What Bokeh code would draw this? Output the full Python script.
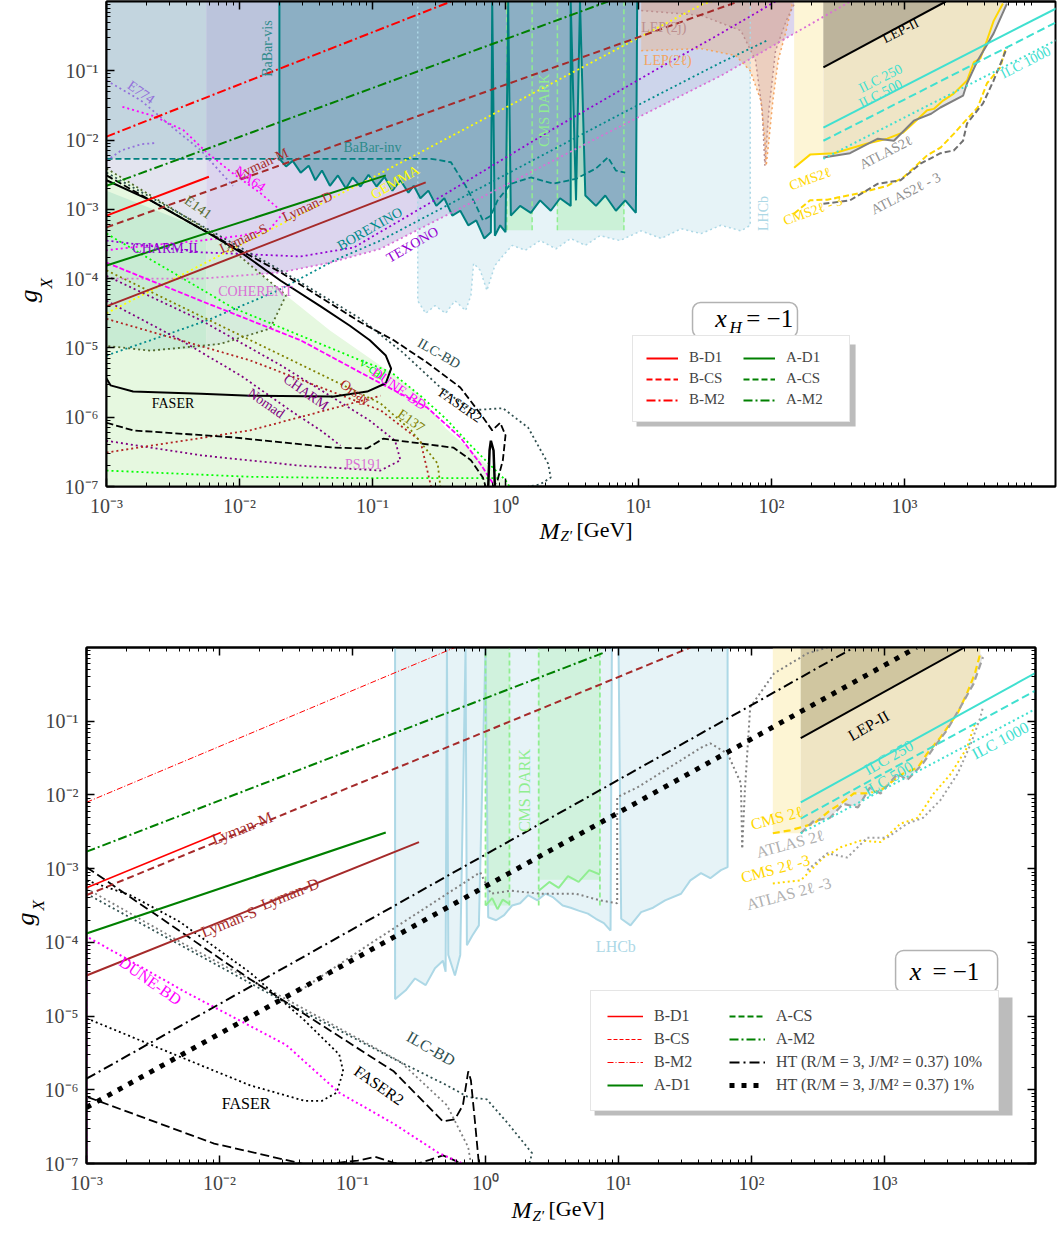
from bokeh.plotting import figure
from bokeh.models import (FixedTicker, LogAxis, CustomJSTickFormatter, Label, Title,
                          Legend, LegendItem, BoxAnnotation, Range1d)
from bokeh.layouts import column
from bokeh.embed import file_html
from bokeh.resources import INLINE

FONT = "Liberation Serif"

# ---------------- axis ticks ----------------
x_major = [1e-3, 1e-2, 1e-1, 1e0, 1e1, 1e2, 1e3]
y_major = [1e-7, 1e-6, 1e-5, 1e-4, 1e-3, 1e-2, 1e-1]
x_minor = [k * d for d in x_major for k in range(2, 10)]
y_minor = [k * d for d in y_major for k in range(2, 10)]

# ======== TOP PANEL (x_H = -1): points as (log10 M_Z'[GeV], log10 g_X) ========
t_bm2 = [(-3.0, -1.95), (-0.41, 0.0)]
t_am2 = [(-3.0, -2.66), (0.77, 0.0)]
t_lymM = [(-3.0, -3.26), (1.75, 0.0)]
t_bd1 = [(-3.0, -3.09), (-2.23, -2.53)]
t_ad1 = [(-3.0, -3.81), (-0.90, -2.51)]
t_lymD = [(-3.0, -4.40), (-0.60, -2.61)]
t_gemma = [(-3.0, -4.50), (-1.02, -2.56), (1.49, -0.03), (1.55, 0.0)]
t_texono = [(-3.0, -3.45), (-2.29, -3.62), (-1.54, -3.68), (-1.14, -3.55), (-0.41, -2.73),
            (0.34, -1.86), (1.09, -1.03), (1.62, -0.46), (2.03, 0.0)]
t_orchid = [(-3.0, -4.0), (-2.29, -4.0), (-1.69, -3.91), (-1.32, -3.77), (-0.94, -3.57),
            (-0.04, -2.69), (0.71, -1.95), (1.62, -1.07), (2.59, 0.0)]
t_borex = [(-3.0, -5.11), (-2.67, -4.89), (-2.24, -4.60), (-1.71, -4.17), (-1.29, -3.74),
           (-0.94, -3.45), (-0.04, -2.54), (0.86, -1.63), (1.62, -0.88), (1.97, -0.56)]
t_binv = [(-3.0, -2.27), (-0.56, -2.27), (-0.41, -2.32), (-0.30, -2.66), (-0.22, -2.95),
          (-0.17, -3.16), (-0.11, -3.09), (-0.06, -2.87), (0.04, -2.63), (0.19, -2.54),
          (0.36, -2.63), (0.53, -2.56), (0.68, -2.41), (0.77, -2.25), (0.83, -2.44), (0.90, -2.47)]
t_bvis = [(-1.70, 0.0), (-1.70, -2.27), (-1.65, -2.38), (-1.60, -2.30), (-1.54, -2.47),
          (-1.48, -2.37), (-1.43, -2.58), (-1.38, -2.44), (-1.32, -2.66), (-1.26, -2.51),
          (-1.20, -2.70), (-1.15, -2.54), (-1.09, -2.67), (-1.03, -2.50), (-0.97, -2.67),
          (-0.91, -2.53), (-0.85, -2.73), (-0.79, -2.58), (-0.73, -2.76), (-0.69, -2.66),
          (-0.64, -2.84), (-0.58, -2.73), (-0.52, -2.95), (-0.46, -2.84), (-0.40, -3.09),
          (-0.34, -3.02), (-0.28, -3.23), (-0.22, -3.16), (-0.16, -3.42), (-0.11, -3.33),
          (-0.10, 0.0), (-0.08, -3.38), (-0.04, -3.23), (0.0, -3.33), (0.02, 0.0),
          (0.04, -3.09), (0.11, -2.95), (0.19, -3.05), (0.26, -2.87), (0.34, -3.02),
          (0.41, -2.84), (0.49, -2.95), (0.49, 0.0), (0.53, -2.87), (0.56, 0.0),
          (0.60, -2.80), (0.68, -2.95), (0.75, -2.80), (0.83, -3.02), (0.90, -2.87),
          (0.98, -3.05), (0.99, 0.0)]
t_lhcb = [(-0.66, 0.0), (-0.66, -4.32), (-0.60, -4.50), (-0.53, -4.39), (-0.45, -4.50),
          (-0.38, -4.32), (-0.30, -4.46), (-0.26, -4.24), (-0.24, -3.78), (-0.19, -3.88),
          (-0.14, -4.17), (-0.08, -3.81), (-0.02, -3.67), (0.05, -3.52), (0.15, -3.59),
          (0.26, -3.45), (0.38, -3.57), (0.49, -3.42), (0.60, -3.52), (0.71, -3.38),
          (0.86, -3.45), (1.02, -3.31), (1.17, -3.42), (1.32, -3.28), (1.47, -3.35),
          (1.62, -3.23), (1.77, -3.31), (1.84, -3.23), (1.84, 0.0)]
t_cmsdark_lo = [0.01, 0.39]
t_cmsdark_hi = [0.20, 0.89]
t_cmsdark_floor = -3.30
t_lep2l = [(1.02, -0.71), (1.47, -0.68), (1.73, -0.78), (1.84, -1.0), (1.92, -1.43), (1.95, -2.01),
           (1.96, -2.37), (1.98, -2.01), (2.01, -1.43), (2.05, -0.85), (2.11, -0.42), (2.16, 0.0)]
t_lep2j = [(1.02, -0.13), (1.47, -0.20), (1.77, -0.42), (1.88, -0.85), (1.93, -1.57), (1.95, -2.37),
           (1.98, -1.57), (2.03, -0.71), (2.11, -0.28), (2.18, 0.0)]
t_cms = [(2.17, -2.40), (2.29, -2.21), (2.47, -2.19), (2.72, -2.05), (2.87, -1.98), (2.99, -1.89),
         (3.07, -1.75), (3.17, -1.57), (3.22, -1.55), (3.29, -1.43), (3.37, -1.33), (3.47, -1.14),
         (3.52, -0.88), (3.57, -0.82), (3.62, -0.56), (3.67, -0.28), (3.74, -0.03)]
t_atlas = [(2.39, -2.25), (2.59, -2.19), (2.80, -1.98), (2.92, -2.01), (3.07, -1.72), (3.20, -1.62),
           (3.27, -1.53), (3.44, -1.36), (3.47, -1.18), (3.55, -0.85), (3.67, -0.46), (3.77, -0.03)]
t_cms3 = [(2.17, -3.06), (2.29, -2.87), (2.42, -2.86), (2.65, -2.77), (2.87, -2.66), (2.99, -2.54),
          (3.07, -2.40), (3.17, -2.22), (3.27, -2.11), (3.37, -1.91), (3.44, -1.76), (3.55, -1.53),
          (3.62, -1.18), (3.72, -0.95), (3.76, -0.67)]
t_atlas3 = [(2.39, -2.92), (2.59, -2.87), (2.80, -2.63), (2.97, -2.58), (3.12, -2.34), (3.27, -2.19),
            (3.37, -2.15), (3.44, -2.01), (3.47, -1.76), (3.59, -1.47), (3.67, -1.14), (3.77, -0.67)]
t_lep = [(2.39, -0.95), (3.31, 0.0)]
t_ilc250 = [(2.39, -1.82), (4.14, -0.10)]
t_ilc500 = [(2.39, -2.01), (4.14, -0.30)]
t_ilc1000 = [(2.39, -2.27), (4.14, -0.56)]
t_faser = [(-3.0, -2.58), (-2.67, -2.87), (-2.29, -3.28), (-1.99, -3.62), (-1.69, -4.03), (-1.39, -4.40),
           (-1.17, -4.68), (-1.02, -4.89), (-0.90, -5.11), (-0.86, -5.30), (-0.90, -5.51), (-1.04, -5.63),
           (-1.29, -5.70), (-1.92, -5.69), (-2.29, -5.66), (-2.80, -5.63), (-2.97, -5.54), (-3.0, -5.44)]
t_faser_loop = [(-0.13, -7.0), (-0.12, -6.48), (-0.11, -6.34), (-0.09, -6.48), (-0.08, -7.0)]
t_faser2a = [(-3.0, -2.51), (-2.29, -3.28), (-1.69, -3.91), (-1.09, -4.63), (-0.84, -4.89), (-0.59, -5.21),
             (-0.34, -5.57), (-0.17, -6.0), (-0.10, -6.19), (-0.04, -6.08), (0.0, -6.26), (-0.02, -6.62),
             (-0.06, -6.91), (-0.09, -7.0)]
t_faser2b = [(-3.0, -6.08), (-2.80, -6.19), (-2.05, -6.29), (-1.29, -6.44), (-1.04, -6.45), (-0.92, -6.31),
             (-0.39, -6.44), (-0.26, -6.62), (-0.17, -6.87), (-0.15, -7.0)]
t_ilcbd = [(-3.0, -2.47), (-2.29, -3.23), (-1.69, -3.88), (-1.09, -4.58), (-0.77, -5.07), (-0.49, -5.57),
           (-0.26, -5.90), (-0.02, -5.87), (0.17, -6.15), (0.32, -6.67), (0.34, -6.87), (0.26, -6.97), (0.17, -7.0)]
t_dune = [(-3.0, -3.77), (-2.29, -4.32), (-1.54, -4.89), (-0.94, -5.51), (-0.59, -5.86), (-0.34, -6.29),
          (-0.19, -6.67), (-0.11, -6.91), (-0.08, -7.0)]
t_e137 = [(-3.0, -3.88), (-0.94, -5.80), (-0.71, -6.19), (-0.51, -6.67), (-0.49, -7.0)]
t_nucal = [(-3.0, -3.35), (-2.05, -4.42), (-1.09, -5.18), (-0.86, -5.35), (-0.64, -5.69), (-0.45, -6.02),
           (-0.26, -6.41), (-0.11, -6.70), (0.0, -6.91), (0.03, -7.0)]
t_nucal_low = [(-3.0, -6.77), (-1.92, -6.86), (-1.09, -6.88), (-0.49, -6.88), (-0.04, -6.88)]
t_e141 = [(-3.0, -2.41), (-2.20, -3.35), (-1.65, -4.24), (-1.77, -4.72), (-2.14, -4.94), (-2.67, -5.04), (-3.0, -4.97)]
t_na64 = [(-2.88, -1.52), (-2.65, -1.65), (-2.42, -1.86), (-2.24, -2.19), (-2.05, -2.48), (-1.84, -2.77),
          (-1.67, -3.05), (-1.77, -3.28), (-1.99, -3.38), (-2.29, -3.45), (-2.67, -3.52), (-3.0, -3.59)]
t_e774a = [(-3.0, -1.14), (-2.74, -1.43), (-2.52, -1.79), (-2.29, -2.15), (-2.05, -2.66)]
t_e774b = [(-3.0, -2.30), (-2.89, -2.15), (-2.74, -2.06), (-2.62, -2.04)]
t_charm = [(-3.0, -3.96), (-2.29, -4.60), (-1.69, -5.25), (-1.32, -5.69), (-1.02, -6.05), (-0.83, -6.34),
           (-0.79, -6.62), (-0.94, -6.77), (-1.54, -6.70), (-2.29, -6.55), (-3.0, -6.34)]
t_nomad = [(-3.0, -4.32), (-2.44, -4.89), (-1.99, -5.40), (-1.62, -5.90), (-1.39, -6.19), (-1.24, -6.41)]
t_orsay_a = [(-3.0, -6.51), (-1.92, -6.19), (-0.94, -5.69)]
t_orsay_b = [(-3.0, -4.58), (-1.92, -5.18), (-0.94, -5.90), (-0.64, -6.34), (-0.56, -7.0)]
t_green_light = [(-3.0, -7.0), (-3.0, -2.41), (-2.20, -3.35), (-1.65, -4.24), (-1.32, -4.75), (-1.02, -5.15),
                 (-0.83, -5.40), (-0.64, -5.69), (-0.45, -6.16), (-0.26, -6.48), (-0.11, -6.74), (0.0, -6.94), (0.04, -7.0)]
t_green_dark = [(-3.0, -2.73), (-2.25, -3.30), (-2.25, -5.0), (-2.67, -5.04), (-3.0, -4.97)]
t_green_mid = [(-2.25, -3.30), (-1.65, -4.24), (-1.77, -4.72), (-2.14, -4.94), (-2.25, -5.0)]

# ======== BOTTOM PANEL (x = -1) ========
b_bm2 = [(-3.0, -2.10), (-0.23, 0.0)]
b_am2 = [(-3.0, -2.77), (0.89, -0.07)]
b_lymM = [(-3.0, -3.36), (1.54, 0.0)]
b_bd1 = [(-3.0, -3.26), (-1.99, -2.51)]
b_ad1 = [(-3.0, -3.88), (-0.75, -2.51)]
b_lymD = [(-3.0, -4.45), (-0.50, -2.64)]
b_ht10 = [(-3.0, -5.85), (2.77, 0.0)]
b_ht1 = [(-3.0, -6.24), (3.24, 0.0)]
b_lep = [(2.37, -1.23), (3.60, 0.0)]
b_ilc250 = [(2.37, -2.10), (4.14, -0.34)]
b_ilc500 = [(2.37, -2.32), (4.14, -0.58)]
b_ilc1000 = [(2.37, -2.52), (4.14, -0.83)]
b_cms = [(2.16, -2.52), (2.29, -2.48), (2.47, -2.39), (2.59, -2.21), (2.67, -2.12), (2.77, -1.98),
         (2.87, -1.98), (2.97, -1.94), (3.07, -1.80), (3.14, -1.71), (3.25, -1.63), (3.32, -1.44),
         (3.42, -1.22), (3.55, -0.89), (3.62, -0.62), (3.68, -0.35), (3.72, -0.08)]
b_atlas = [(2.37, -2.52), (2.47, -2.35), (2.59, -2.31), (2.69, -2.12), (2.80, -2.17), (2.89, -1.90),
           (2.97, -1.98), (3.10, -1.71), (3.17, -1.80), (3.29, -1.57), (3.37, -1.36), (3.47, -1.12),
           (3.57, -0.81), (3.67, -0.49), (3.74, -0.13)]
b_cms3 = [(2.16, -3.20), (2.37, -3.16), (2.54, -2.85), (2.67, -2.71), (2.82, -2.62), (2.97, -2.64),
          (3.12, -2.39), (3.25, -2.31), (3.37, -1.98), (3.50, -1.71), (3.62, -1.36), (3.68, -1.03)]
b_atlas3 = [(2.42, -3.02), (2.57, -2.79), (2.72, -2.85), (2.87, -2.58), (3.02, -2.58), (3.17, -2.39),
            (3.29, -2.31), (3.42, -2.07), (3.55, -1.71), (3.65, -1.30), (3.72, -0.95), (3.74, -0.81)]
b_lhcb = [(-0.68, 0.0), (-0.68, -4.77), (-0.60, -4.65), (-0.53, -4.49), (-0.45, -4.58), (-0.38, -4.35),
          (-0.32, -4.25), (-0.30, -4.40), (-0.29, 0.0), (-0.28, -4.17), (-0.23, -4.45), (-0.19, -4.17),
          (-0.15, 0.0), (-0.14, -4.04), (-0.10, -3.91), (-0.05, -3.77), (0.0, 0.0), (0.02, -3.66),
          (0.08, -3.70), (0.14, -3.63), (0.20, -3.50), (0.26, -3.47), (0.32, -3.36), (0.39, -3.43),
          (0.45, -3.34), (0.51, -3.39), (0.58, -3.50), (0.64, -3.53), (0.70, -3.57), (0.77, -3.61),
          (0.83, -3.68), (0.89, -3.74), (0.94, -3.84), (0.95, 0.0), (1.0, 0.0), (1.02, -3.68),
          (1.09, -3.77), (1.17, -3.59), (1.26, -3.53), (1.35, -3.43), (1.47, -3.34), (1.54, -3.16),
          (1.62, -3.06), (1.69, -3.13), (1.77, -3.02), (1.82, -2.98), (1.82, 0.0)]
b_cmsdark_lo = [0.0, 0.40]
b_cmsdark_hi = [0.18, 0.86]
b_cmsdark_floor = [-3.50, -3.15]
b_cd_a = [(0.0, -3.50), (0.05, -3.40), (0.09, -3.55), (0.13, -3.42), (0.18, -3.48)]
b_cd_b = [(0.40, -3.30), (0.48, -3.18), (0.55, -3.26), (0.62, -3.10), (0.70, -3.18), (0.78, -3.02), (0.86, -3.08)]
b_g1 = [(-1.39, -4.65), (-0.86, -4.01), (-0.04, -3.05), (0.04, -3.34), (0.19, -3.30), (0.41, -3.34),
        (0.68, -3.34), (0.86, -3.43), (0.99, -3.47), (0.99, -2.03), (1.14, -1.90), (1.62, -1.36),
        (1.69, -1.30), (1.82, -1.44), (1.92, -1.84), (1.93, -2.71)]
b_g2 = [(1.93, -2.71), (1.95, -1.94), (1.99, -0.81), (2.17, -0.35), (2.42, -0.08), (2.57, 0.0)]
b_ilcbd = [(-3.0, -3.34), (-2.25, -4.08), (-1.55, -4.77), (-0.69, -5.58), (-0.29, -5.94), (-0.13, -6.10),
           (0.01, -6.13), (0.17, -6.46), (0.35, -6.86), (0.33, -7.0)]
b_g3 = [(-3.0, -3.27), (-2.25, -4.04), (-1.55, -4.72), (-0.64, -5.62), (-0.29, -6.21), (-0.13, -6.78), (-0.11, -7.0)]
b_faser2a = [(-3.0, -2.98), (-1.77, -4.50), (-0.69, -5.75), (-0.32, -6.43), (-0.23, -6.40), (-0.17, -6.21),
             (-0.13, -5.75), (-0.11, -5.87), (-0.08, -6.42), (-0.05, -7.0)]
b_faser2b = [(-2.99, -6.10), (-2.04, -6.73), (-1.31, -7.03), (-0.96, -6.96), (-0.83, -6.91), (-0.69, -6.99),
             (-0.56, -7.03), (-0.42, -6.95), (-0.32, -6.89), (-0.23, -6.96), (-0.18, -7.0)]
b_faser = [(-3.0, -5.03), (-2.30, -5.55), (-1.77, -5.94), (-1.36, -6.15), (-1.23, -6.15), (-1.12, -6.04),
           (-1.07, -5.75), (-1.10, -5.52), (-1.36, -5.06), (-1.77, -4.41), (-2.30, -3.72), (-2.67, -3.36), (-3.0, -3.16)]
b_dune = [(-3.0, -7.0), (-3.0, -3.92), (-2.84, -4.08), (-2.25, -4.68), (-1.50, -5.39), (-1.10, -6.04),
          (-0.69, -6.46), (-0.35, -6.86), (-0.16, -7.01)]

# ---------------- helpers ----------------
FMT = """
const sup = {"-": "\\u207b", "0": "\\u2070", "1": "\\u00b9", "2": "\\u00b2", "3": "\\u00b3",
             "4": "\\u2074", "5": "\\u2075", "6": "\\u2076", "7": "\\u2077", "8": "\\u2078", "9": "\\u2079"};
const e = Math.round(Math.log10(tick));
let s = "";
for (const c of String(e)) { s += sup[c]; }
return "10" + s;
"""
OFF = ([1e-9, 2e-9], [1e-12, 1e-12])  # legend-only proxies, outside the visible ranges


def V(pairs):
    return [10.0 ** a for a, b in pairs], [10.0 ** b for a, b in pairs]


def curve(p, pairs, color, width=1.5, dash="solid", alpha=1.0):
    x, y = V(pairs)
    return p.line(x, y, line_color=color, line_width=width, line_dash=dash, line_alpha=alpha)


def region(p, pairs, color, alpha=1.0):
    x, y = V(pairs)
    return p.patch(x, y, fill_color=color, fill_alpha=alpha, line_color=None)


def text(p, lx, ly, s, color, angle=0, size=14, italic=False, align="center"):
    p.add_layout(Label(x=10 ** lx, y=10 ** ly, text=s, text_color=color, angle=angle, angle_units="deg",
                       text_font=FONT, text_font_size=f"{size}px", text_align=align, text_baseline="middle",
                       text_font_style="italic" if italic else "normal"))


def title(p, s, side, size, italic, standoff, offset, valign="bottom"):
    p.add_layout(Title(text=s, align="left", vertical_align=valign, text_font=FONT, text_font_size=f"{size}px",
                       text_font_style="italic" if italic else "normal", text_color="black",
                       standoff=standoff, offset=offset), side)


def style_axis(ax, labels):
    ax.major_tick_in = 8
    ax.major_tick_out = 0
    ax.minor_tick_in = 4
    ax.minor_tick_out = 0
    ax.major_tick_line_width = 1.5
    ax.minor_tick_line_width = 1
    ax.axis_line_width = 2
    ax.major_label_text_font = FONT
    if labels:
        ax.major_label_text_font_size = "20px"
        ax.major_label_standoff = 8
    else:
        ax.major_label_text_font_size = "1px"
        ax.major_label_text_color = None
        ax.major_label_standoff = 0


def make_fig(w, h, x_end, y_end, bl, br, bt, bb, right=True):
    p = figure(width=w, height=h, x_axis_type="log", y_axis_type="log",
               x_range=Range1d(1e-3, x_end), y_range=Range1d(1e-7, y_end),
               output_backend="svg", toolbar_location=None, frame_align=False,
               min_border_left=bl, min_border_right=br, min_border_top=bt, min_border_bottom=bb)
    p.grid.visible = False
    p.outline_line_color = "black"
    p.outline_line_width = 2
    xt = FixedTicker(ticks=x_major, minor_ticks=x_minor)
    yt = FixedTicker(ticks=y_major, minor_ticks=y_minor)
    p.xaxis.ticker = xt
    p.yaxis.ticker = yt
    p.xaxis.formatter = CustomJSTickFormatter(code=FMT)
    p.yaxis.formatter = CustomJSTickFormatter(code=FMT)
    for ax in list(p.xaxis) + list(p.yaxis):
        style_axis(ax, True)
    top = LogAxis(ticker=xt)
    style_axis(top, False)
    p.add_layout(top, "above")
    if right:
        r = LogAxis(ticker=yt)
        style_axis(r, False)
        p.add_layout(r, "right")
    return p


RED, GREEN, BROWN = "#ff0000", "#008000", "#a52a2a"
DOT = "2 3"

# =================== TOP FIGURE ===================
pt = make_fig(1057, 556, 10 ** 4.135, 1.0, 106, 2, 1, 70, right=False)

# background regions
pt.quad(left=[1e-3], right=[10 ** -2.25], bottom=[1e-7], top=[1.0], fill_color="#e3e4ef", line_color=None)
region(pt, [(-2.25, 0.0)] + [q for q in reversed(t_orchid) if q[0] > -2.25] + [(-2.25, -4.0)], "#dcd5ee")
pt.quad(left=[1e-3], right=[10 ** -2.25], bottom=[10 ** t_binv[0][1]], top=[1.0], fill_color="#c3d5df", line_color=None)
region(pt, [(-2.25, t_binv[0][1])] + [q for q in t_binv if q[0] > -2.25] + [(t_binv[-1][0], 0.0), (-2.25, 0.0)], "#bbc4dc")
region(pt, t_green_light, "#e6f8e0")
region(pt, t_green_dark, "#c8ebd3")
region(pt, t_green_mid, "#d6ecdc")
region(pt, t_lhcb, "#add8e6", 0.3)
pt.quad(left=[10 ** v for v in t_cmsdark_lo], right=[10 ** v for v in t_cmsdark_hi],
        bottom=[10 ** t_cmsdark_floor] * 2, top=[1.0] * 2, fill_color="#90ee90", fill_alpha=0.3, line_color=None)
region(pt, t_bvis, "#8cafc4")
region(pt, t_lep2l + [(t_lep2l[0][0], 0.0)], "#f4a460", 0.3)
region(pt, t_lep2j + [(t_lep2j[0][0], 0.0)], "#bc8f8f", 0.25)
region(pt, [q for q in t_cms if q[0] <= 2.29] + [(2.39, -2.20), (2.39, 0.0), (t_cms[0][0], 0.0)], "#fdf5d6")
region(pt, [(2.39, -2.20)] + [q for q in t_cms if q[0] > 2.39] + [(t_cms[-1][0], 0.0), (2.39, 0.0)], "#efe5c6")
region(pt, t_atlas + [q for q in reversed(t_cms) if q[0] > 2.39] + [(2.39, -2.20)], "#e4e4e4")
region(pt, t_lep + [(t_lep[0][0], 0.0)], "#bdb49c")

# curves
curve(pt, t_lhcb, "#add8e6", 1.5, DOT)
for lo, hi in zip(t_cmsdark_lo, t_cmsdark_hi):
    curve(pt, [(lo, t_cmsdark_floor), (lo, 0.0)], "#90ee90", 1.5, "5 3")
    curve(pt, [(hi, t_cmsdark_floor), (hi, 0.0)], "#90ee90", 1.5, "5 3")
curve(pt, t_binv, "#008080", 1.8, "6 3")
curve(pt, t_bvis, "#008080", 2.0)
curve(pt, t_lep2l, "#f4a460", 1.5, DOT)
curve(pt, t_lep2j, "#bc8f8f", 1.5, DOT)
curve(pt, t_e774a, "#9370db", 1.8, DOT)
curve(pt, t_e774b, "#9370db", 1.8, DOT)
curve(pt, t_na64, "#ff00ff", 1.8, DOT)
curve(pt, t_e141, "#556b2f", 1.8, DOT)
curve(pt, t_texono, "#9400d3", 1.8, DOT)
curve(pt, t_orchid, "#da70d6", 1.8, DOT)
curve(pt, t_borex, "#008b8b", 1.8, DOT)
curve(pt, t_gemma, "#ffff00", 1.8, DOT)
curve(pt, t_charm, "#800080", 1.8, DOT)
curve(pt, t_nomad, "#800080", 1.8, DOT)
curve(pt, t_orsay_a, "#b22222", 1.8, DOT)
curve(pt, t_orsay_b, "#b22222", 1.8, DOT)
curve(pt, t_e137, "#808000", 1.8, DOT)
curve(pt, t_nucal, "#00ff00", 1.8, DOT)
curve(pt, t_nucal_low, "#00ff00", 1.8, DOT)
curve(pt, t_dune, "#ff00ff", 1.8, "5 2")
curve(pt, t_ilcbd, "#2f4f4f", 1.8, DOT)
curve(pt, t_faser, "#000000", 2.0)
curve(pt, t_faser_loop, "#000000", 2.5)
curve(pt, t_faser2a, "#000000", 1.8, "7 3")
curve(pt, t_faser2b, "#000000", 1.8, "7 3")
curve(pt, t_bm2, RED, 2.0, "9 3 2 3")
curve(pt, t_am2, GREEN, 2.0, "9 3 2 3")
curve(pt, t_lymM, BROWN, 2.0, "7 4")
curve(pt, t_bd1, RED, 2.0)
curve(pt, t_ad1, GREEN, 2.0)
curve(pt, t_lymD, BROWN, 2.0)
curve(pt, t_cms, "#ffd700", 2.0)
curve(pt, t_atlas, "#808080", 2.0)
curve(pt, t_cms3, "#ffd700", 2.0, "6 3")
curve(pt, t_atlas3, "#707070", 2.0, "6 3")
curve(pt, t_lep, "#000000", 2.0)
curve(pt, t_ilc250, "#40e0d0", 2.0)
curve(pt, t_ilc500, "#40e0d0", 2.0, "8 4")
curve(pt, t_ilc1000, "#40e0d0", 2.0, DOT)

top_texts = [
    (-2.74, -1.31, "E774", "#9370db", -35), (-1.79, -0.68, "BaBar-vis", "#2e8b8b", 90),
    (-1.0, -2.11, "BaBar-inv", "#2e8b8b", 0), (-1.83, -2.34, "Lyman-M", BROWN, 25),
    (-1.92, -2.56, "NA64", "#ff00ff", -35), (-2.31, -2.97, "E141", "#556b2f", -35),
    (-1.49, -2.96, "Lyman-D", BROWN, 25), (-1.97, -3.42, "Lyman-S", BROWN, 25),
    (-0.83, -2.61, "GEMMA", "#ffff00", 30), (-1.02, -3.28, "BOREXINO", "#008b8b", 30),
    (-0.70, -3.51, "TEXONO", "#9400d3", 30), (-2.56, -3.57, "CHARM-II", "#9400d3", 0),
    (-1.88, -4.19, "COHERENT", "#da70d6", 0), (-2.50, -5.80, "FASER", "#000000", 0),
    (-1.80, -5.80, "Nomad", "#800080", -35), (-1.50, -5.64, "CHARM", "#800080", -35),
    (-1.13, -5.64, "Orsay", "#b22222", -35), (-1.0, -5.30, "ν-cal", "#00ee00", -35),
    (-0.80, -5.59, "DUNE-BD", "#ff00ff", -35), (-0.71, -6.05, "E137", "#808000", -35),
    (-0.34, -5.83, "FASER2", "#000000", -35), (-0.50, -5.08, "ILC-BD", "#2f4f4f", -30),
    (-1.07, -6.68, "PS191", "#da70d6", 0), (0.29, -1.57, "CMS DARK", "#90ee90", 90),
    (1.94, -3.06, "LHCb", "#add8e6", 90), (1.19, -0.38, "LEP(2j)", "#bc8f8f", 0),
    (1.22, -0.85, "LEP(2ℓ)", "#f4a460", 0), (2.97, -0.42, "LEP-II", "#000000", 27),
    (2.82, -1.11, "ILC 250", "#40e0d0", 27), (2.82, -1.33, "ILC 500", "#40e0d0", 27),
    (3.91, -0.88, "ILC 1000", "#40e0d0", 27), (2.29, -2.56, "CMS2ℓ", "#ffd700", 20),
    (2.86, -2.18, "ATLAS2ℓ", "#909090", 27), (2.31, -3.02, "CMS2ℓ - 3", "#ffd700", 20),
    (3.01, -2.77, "ATLAS2ℓ - 3", "#909090", 27),
]
for lx, ly, s, c, a in top_texts:
    text(pt, lx, ly, s, c, a, 14)

# axis titles (sub-scripted, built from stacked titles)
title(pt, "X", "left", 17, True, 11, 198)
title(pt, "g", "left", 26, True, -27, 184)
title(pt, "M", "below", 24, True, -4, 433, "top")
title(pt, "Z′", "below", 15, True, -31, 454, "top")
title(pt, "[GeV]", "below", 22, False, -54, 470, "top")

# x_H box
pt.add_layout(BoxAnnotation(left=10 ** 1.406, right=10 ** 2.195, top=10 ** -4.345, bottom=10 ** -4.85,
                            fill_color="white", fill_alpha=1, line_color="black", line_width=1.5, border_radius=8))
text(pt, 1.62, -4.576, "x", "#000000", 0, 26, True)
text(pt, 1.73, -4.706, "H", "#000000", 0, 17, True)
text(pt, 1.81, -4.576, "= −1", "#000000", 0, 25, False, "left")

# legend (with shadow)
pt.add_layout(BoxAnnotation(left=10 ** 0.985, right=10 ** 2.632, top=10 ** -4.951, bottom=10 ** -6.134,
                            fill_color="#a0a0a0", fill_alpha=0.7, line_color=None))
lt = [("B-D1", RED, "solid"), ("B-CS", RED, "6 3"), ("B-M2", RED, "9 3 2 3"),
      ("A-D1", GREEN, "solid"), ("A-CS", GREEN, "6 3"), ("A-M2", GREEN, "9 3 2 3")]
items = []
for lab, c, d in lt:
    r = pt.line(OFF[0], OFF[1], line_color=c, line_width=2, line_dash=d)
    items.append(LegendItem(label=lab, renderers=[r]))
leg = Legend(items=items, location=(526, 64), orientation="vertical", nrows=3,
             label_text_font=FONT, label_text_font_size="15px", glyph_width=32, glyph_height=14,
             label_height=14, label_width=50, spacing=4, padding=13, margin=0, label_standoff=11,
             border_line_color="#cccccc", border_line_width=1.5, background_fill_alpha=1.0)
pt.add_layout(leg)

# =================== BOTTOM FIGURE ===================
pb = make_fig(1057, 673, 10 ** 4.135, 1.0, 86, 22, 91, 66)

region(pb, b_lhcb, "#add8e6", 0.3)
pb.quad(left=[10 ** v for v in b_cmsdark_lo], right=[10 ** v for v in b_cmsdark_hi],
        bottom=[10 ** v for v in b_cmsdark_floor], top=[1.0] * 2, fill_color="#90ee90", fill_alpha=0.25, line_color=None)
pb.quad(left=[10 ** b_cms[0][0]], right=[10 ** 2.37], bottom=[10 ** b_cms[0][1]], top=[1.0], fill_color="#fdf5d4", line_color=None)
region(pb, [(2.37, -2.45)] + [q for q in b_cms if q[0] > 2.37] + [(b_cms[-1][0], 0.0), (2.37, 0.0)], "#efe5c4")
region(pb, b_atlas + [q for q in reversed(b_cms) if q[0] > 2.37] + [(2.37, -2.45)], "#e4e4e4")
region(pb, b_lep + [(b_lep[0][0], 0.0)], "#d0c6a0")

curve(pb, b_lhcb, "#add8e6", 2.0)
for lo, hi in zip(b_cmsdark_lo, b_cmsdark_hi):
    curve(pb, [(lo, -3.5), (lo, 0.0)], "#90ee90", 1.8, "5 3")
    curve(pb, [(hi, -3.5), (hi, 0.0)], "#90ee90", 1.8, "5 3")
curve(pb, b_cd_a, "#90ee90", 2.0)
curve(pb, b_cd_b, "#90ee90", 2.0)
curve(pb, b_g1, "#808080", 2.0, DOT)
curve(pb, b_g2, "#808080", 2.0, DOT)
curve(pb, b_g3, "#808080", 1.8, DOT)
curve(pb, b_ilcbd, "#2f4f4f", 1.8, DOT)
curve(pb, b_faser, "#000000", 1.8, DOT)
curve(pb, b_faser2a, "#000000", 1.8, "9 4")
curve(pb, b_faser2b, "#000000", 1.8, "9 4")
curve(pb, b_dune, "#ff00ff", 2.0, DOT)
curve(pb, b_bm2, RED, 1.0, "6 2 1 2")
curve(pb, b_am2, GREEN, 2.0, "9 3 2 3")
curve(pb, b_lymM, BROWN, 2.0, "7 4")
curve(pb, b_bd1, RED, 1.5)
curve(pb, b_ad1, GREEN, 2.2)
curve(pb, b_lymD, BROWN, 2.0)
r_ht10 = curve(pb, b_ht10, "#000000", 2.0, "10 4 2 4")
r_ht1 = curve(pb, b_ht1, "#000000", 5.0, "5 7")
curve(pb, b_cms, "#ffd700", 2.2, "7 4")
curve(pb, b_atlas, "#a0a0a0", 2.2, "7 4")
curve(pb, b_cms3, "#ffd700", 2.0, DOT)
curve(pb, b_atlas3, "#a0a0a0", 2.0, DOT)
curve(pb, b_lep, "#000000", 2.0)
curve(pb, b_ilc250, "#40e0d0", 2.0)
curve(pb, b_ilc500, "#40e0d0", 2.0, "8 4")
curve(pb, b_ilc1000, "#40e0d0", 2.0, DOT)

bot_texts = [
    (-1.83, -2.45, "Lyman-M", BROWN, 22), (-1.93, -3.72, "Lyman-S", BROWN, 22),
    (-1.47, -3.34, "Lyman-D", BROWN, 22), (2.88, -1.06, "LEP-II", "#000000", 30),
    (3.03, -1.49, "ILC 250", "#40e0d0", 30), (3.03, -1.78, "ILC 500", "#40e0d0", 30),
    (3.87, -1.26, "ILC 1000", "#40e0d0", 28), (2.19, -2.31, "CMS 2ℓ", "#ffd700", 15),
    (2.29, -2.66, "ATLAS 2ℓ", "#b0b0b0", 15), (2.18, -3.0, "CMS 2ℓ -3", "#ffd700", 15),
    (2.28, -3.34, "ATLAS 2ℓ -3", "#b0b0b0", 15), (0.98, -4.06, "LHCb", "#add8e6", 0),
    (0.29, -1.94, "CMS DARK", "#90ee90", 90), (-1.80, -6.19, "FASER", "#000000", 0),
    (-0.80, -5.94, "FASER2", "#000000", -35), (-0.41, -5.44, "ILC-BD", "#2f4f4f", -30),
    (-2.52, -4.52, "DUNE-BD", "#ff00ff", -35),
]
for lx, ly, s, c, a in bot_texts:
    text(pb, lx, ly, s, c, a, 16)

title(pb, "X", "left", 17, True, -13, 253)
title(pb, "g", "left", 26, True, -13, 238)
title(pb, "M", "below", 24, True, 0, 425, "top")
title(pb, "Z′", "below", 15, True, -33, 446, "top")
title(pb, "[GeV]", "below", 22, False, -58, 462, "top")

pb.add_layout(BoxAnnotation(left=10 ** 3.083, right=10 ** 3.850, top=10 ** -4.110, bottom=10 ** -4.680,
                            fill_color="white", fill_alpha=1, line_color="black", line_width=1.5, border_radius=8))
text(pb, 3.233, -4.395, "x", "#000000", 0, 26, True)
text(pb, 3.36, -4.395, "= −1", "#000000", 0, 25, False, "left")

pb.add_layout(BoxAnnotation(left=10 ** 0.820, right=10 ** 3.962, top=10 ** -4.748, bottom=10 ** -6.349,
                            fill_color="#a0a0a0", fill_alpha=0.7, line_color=None))
lb = [("B-D1", RED, "solid", 1.5), ("B-CS", RED, "4 2", 1.2), ("B-M2", RED, "6 2 1 2", 1.2),
      ("A-D1", GREEN, "solid", 2.2), ("A-CS", GREEN, "6 3", 2.2), ("A-M2", GREEN, "9 3 2 3", 2.2)]
bitems = []
for lab, c, d, w in lb:
    r = pb.line(OFF[0], OFF[1], line_color=c, line_width=w, line_dash=d)
    bitems.append(LegendItem(label=lab, renderers=[r]))
bitems.append(LegendItem(label="HT (R/M = 3, J/M² = 0.37) 10%", renderers=[r_ht10]))
bitems.append(LegendItem(label="HT (R/M = 3, J/M² = 0.37) 1%", renderers=[r_ht1]))
legb = Legend(items=bitems, location=(504, 52), orientation="vertical", nrows=4,
              label_text_font=FONT, label_text_font_size="16px", glyph_width=36, glyph_height=16,
              label_height=16, label_width=70, spacing=5, padding=16, margin=0, label_standoff=11,
              border_line_color="#cccccc", border_line_width=1.5, background_fill_alpha=1.0)
pb.add_layout(legb)

root = column(pt, pb, spacing=0)
with open("out.html", "w") as f:
    f.write(file_html(root, INLINE))
